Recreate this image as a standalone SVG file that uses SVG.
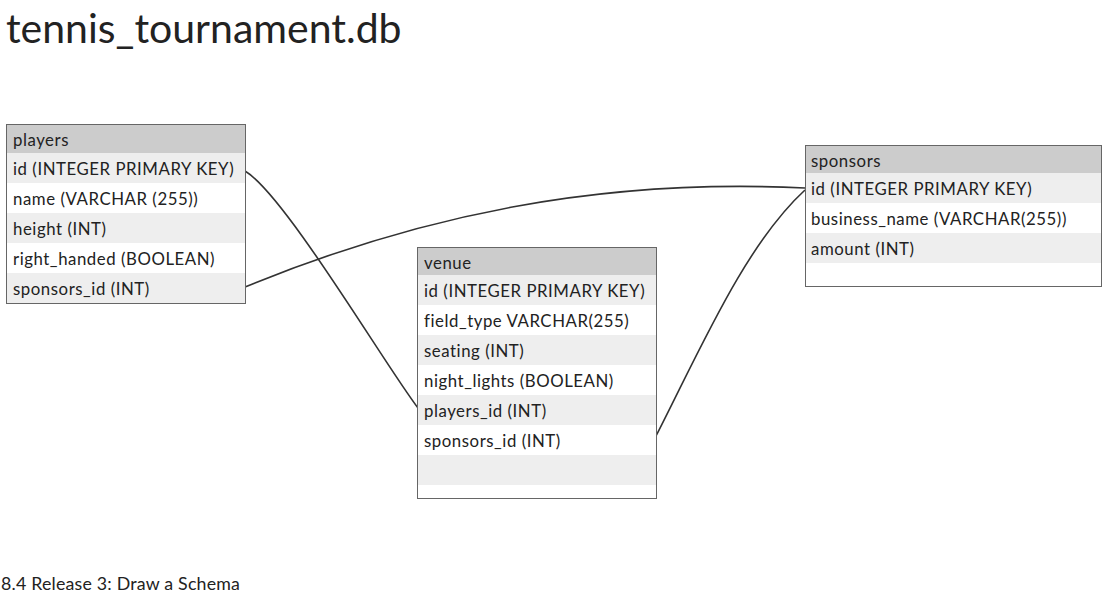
<svg xmlns="http://www.w3.org/2000/svg" width="1103" height="606" viewBox="0 0 1103 606">
<style>
text{font-family:Lato,"Noto Sans","Liberation Sans",sans-serif;fill:#222}
.t{font-size:16.8px;letter-spacing:0.55px}
.hd{fill:#cccccc}
.g{fill:#eeeeee}
.w{fill:#ffffff}
.bd{fill:none;stroke:#666;stroke-width:1}
.c{fill:none;stroke:#333;stroke-width:1.6}
</style>
<rect width="1103" height="606" fill="#fff"/>
<text x="6" y="43" style="font-size:41px">tennis_tournament.db</text>
<text x="1" y="590" style="font-size:17.8px;letter-spacing:0.2px">8.4 Release 3: Draw a Schema</text>
<g id="connectors">
<path class="c" d="M245,171 C285,195 385,365 418,408"/>
<path class="c" d="M245,287 C420,215 600,178 805,188"/>
<path class="c" d="M656,436 C700,350 745,245 805,190"/>
</g>
<g id="players">
<rect class="hd" x="6" y="124" width="239" height="29"/>
<rect class="g" x="6" y="153" width="239" height="30"/>
<rect class="w" x="6" y="183" width="239" height="30"/>
<rect class="g" x="6" y="213" width="239" height="30"/>
<rect class="w" x="6" y="243" width="239" height="30"/>
<rect class="g" x="6" y="273" width="239" height="30"/>
<rect class="bd" x="6.5" y="124.5" width="239" height="179"/>
<text class="t" x="13" y="146">players</text>
<text class="t" x="13" y="175">id (INTEGER PRIMARY KEY)</text>
<text class="t" x="13" y="205">name (VARCHAR (255))</text>
<text class="t" x="13" y="235">height (INT)</text>
<text class="t" x="13" y="265">right_handed (BOOLEAN)</text>
<text class="t" x="13" y="295">sponsors_id (INT)</text>
</g>
<g id="venue">
<rect class="hd" x="417" y="247" width="239" height="28"/>
<rect class="g" x="417" y="275" width="239" height="30"/>
<rect class="w" x="417" y="305" width="239" height="30"/>
<rect class="g" x="417" y="335" width="239" height="30"/>
<rect class="w" x="417" y="365" width="239" height="30"/>
<rect class="g" x="417" y="395" width="239" height="30"/>
<rect class="w" x="417" y="425" width="239" height="30"/>
<rect class="g" x="417" y="455" width="239" height="30"/>
<rect class="w" x="417" y="485" width="239" height="14"/>
<rect class="bd" x="417.5" y="247.5" width="239" height="251"/>
<text class="t" x="424" y="269">venue</text>
<text class="t" x="424" y="297">id (INTEGER PRIMARY KEY)</text>
<text class="t" x="424" y="327">field_type VARCHAR(255)</text>
<text class="t" x="424" y="357">seating (INT)</text>
<text class="t" x="424" y="387">night_lights (BOOLEAN)</text>
<text class="t" x="424" y="417">players_id (INT)</text>
<text class="t" x="424" y="447">sponsors_id (INT)</text>
</g>
<g id="sponsors">
<rect class="hd" x="805" y="145" width="297" height="28"/>
<rect class="g" x="805" y="173" width="297" height="30"/>
<rect class="w" x="805" y="203" width="297" height="30"/>
<rect class="g" x="805" y="233" width="297" height="30"/>
<rect class="w" x="805" y="263" width="297" height="23"/>
<rect class="bd" x="805.5" y="145.5" width="296" height="141"/>
<text class="t" x="811" y="167">sponsors</text>
<text class="t" x="811" y="195">id (INTEGER PRIMARY KEY)</text>
<text class="t" x="811" y="225">business_name (VARCHAR(255))</text>
<text class="t" x="811" y="255">amount (INT)</text>
</g>
</svg>
